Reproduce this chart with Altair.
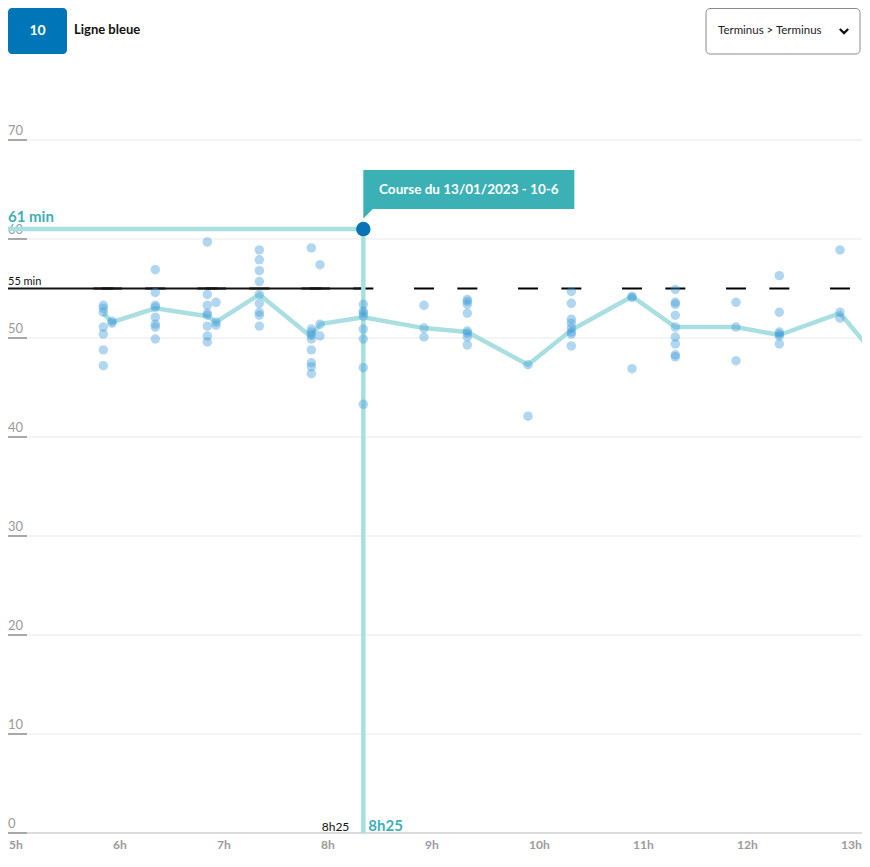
import altair as alt
import pandas as pd

# ---------------- data ----------------
dep_times = ["5h55", "6h00", "6h25", "6h55", "7h00", "7h25", "7h55", "8h00", "8h25",
             "9h00", "9h25", "10h00", "10h25", "11h00", "11h25", "12h00", "12h25", "13h00", "13h25"]
trip_values = [
    [53.3, 53.0, 52.6, 51.1, 50.4, 48.8, 47.2],
    [51.7, 51.5],
    [56.9, 54.6, 53.3, 53.1, 52.1, 51.4, 51.1, 49.9],
    [59.7, 54.4, 53.3, 52.5, 52.3, 51.2, 50.2, 49.6],
    [53.6, 51.6, 51.3],
    [58.9, 57.9, 56.8, 55.7, 54.4, 53.5, 52.6, 52.3, 51.2],
    [59.1, 50.9, 50.6, 50.3, 49.9, 48.8, 47.5, 47.1, 46.4],
    [57.4, 51.4, 50.2],
    [53.4, 52.7, 52.5, 52.2, 50.9, 49.9, 47.0, 43.3],
    [53.3, 51.0, 50.1],
    [53.9, 53.7, 53.4, 52.5, 50.7, 50.5, 50.1, 49.3],
    [47.3, 42.1],
    [54.7, 53.5, 51.9, 51.5, 51.0, 50.6, 50.4, 49.2],
    [54.2, 54.1, 46.9],
    [54.9, 53.6, 53.4, 52.3, 51.1, 50.1, 49.4, 48.3, 48.1],
    [53.6, 51.1, 47.7],
    [56.3, 52.6, 50.6, 50.4, 50.2, 49.4],
    [58.9, 52.6, 52.0],
    [],
]
median_values = [52.5, 51.6, 53.0, 52.2, 51.6, 54.4, 50.1, 51.4, 52.1,
                 51.0, 50.6, 47.3, 50.8, 54.2, 51.1, 51.1, 50.3, 52.5, 47.3]
scheduled = 55
highlight_time = "8h25"
highlight_value = 61
highlight_title = "Course du 13/01/2023 - 10-6"
y_ticks = [0, 10, 20, 30, 40, 50, 60, 70]
x_ticks = [5, 6, 7, 8, 9, 10, 11, 12, 13]
x_tick_labels = ["5h", "6h", "7h", "8h", "9h", "10h", "11h", "12h", "13h"]
line_number = "10"
line_name = "Ligne bleue"
direction = "Terminus > Terminus"


def to_hours(s):
    h, m = s.split("h")
    return int(h) + int(m) / 60.0


# ---------------- geometry ----------------
W, H = 854, 825
PX_PER_H = 104.0
x_dom = [5, 5 + W / PX_PER_H]
y_dom = [0, H / 9.9]
X = lambda f: alt.X(f, type="quantitative", scale=alt.Scale(domain=x_dom, nice=False, zero=False), axis=None)
Y = lambda f: alt.Y(f, type="quantitative", scale=alt.Scale(domain=y_dom, nice=False), axis=None)

FONT = "Lato"
TEAL = "#3bb0b5"
LINE_TEAL = "#a9dfe1"
DOT = "#3b9ad9"
HL = "#0a72b6"
GRAY = "#9a9a9a"

dots = pd.DataFrame([(to_hours(t), v) for t, vals in zip(dep_times, trip_values) for v in vals],
                    columns=["t", "v"])
med = pd.DataFrame({"t": [to_hours(t) for t in dep_times], "v": median_values})
sched = pd.DataFrame({"t": [to_hours(t) for t in dep_times], "v": [scheduled] * len(dep_times)})
t0 = to_hours(highlight_time)
hl = pd.DataFrame({"t": [t0], "v": [highlight_value], "x0": [x_ticks[0]], "zero": [0],
                   "sched": [scheduled], "lab": [f"{highlight_value} min"],
                   "slab": [f"{scheduled} min"], "tlab": [highlight_time],
                   "title": [highlight_title],
                   "tt_x2": [t0 + 211 / PX_PER_H], "tt_xm": [t0 + 105.5 / PX_PER_H],
                   "tt_y1": [highlight_value + 20 / 9.9], "tt_y2": [highlight_value + 59 / 9.9],
                   "tt_ym": [highlight_value + 39.5 / 9.9]})
yt = pd.DataFrame({"v": y_ticks, "lab": [str(v) for v in y_ticks]})
xt = pd.DataFrame({"t": x_ticks, "lab": x_tick_labels})

# ---------------- layers ----------------
grid = alt.Chart(yt).mark_rule(color="#f0f0f0", strokeWidth=1.5).encode(
    y=Y("v"), x=alt.value(0), x2=alt.value(W))
axis_line = alt.Chart(yt[yt.v == 0]).mark_rule(color="#dcdce0", strokeWidth=2).encode(
    y=Y("v"), x=alt.value(0), x2=alt.value(W))
underline = alt.Chart(yt).mark_rule(color="#a8a8a8", strokeWidth=2).encode(
    y=Y("v"), x=alt.value(0), x2=alt.value(19))
ylabels = alt.Chart(yt).mark_text(align="left", baseline="bottom", dy=-2, fontSize=13,
                                  font=FONT, color=GRAY).encode(
    y=Y("v"), x=alt.value(0), text="lab:N")
xlabels = alt.Chart(xt).mark_text(align="left", baseline="middle", dx=1, fontSize=12,
                                  font=FONT, fontWeight="bold", color=GRAY).encode(
    x=X("t"), y=alt.value(H + 12), text="lab:N")

sched_ticks = alt.Chart(sched).mark_tick(orient="horizontal", size=20, thickness=2,
                                          color="#000000", opacity=1, clip=True).encode(x=X("t"), y=Y("v"))
sched_line = alt.Chart(hl).mark_rule(color="#111111", strokeWidth=2).encode(
    x=X("x0"), x2="t", y=Y("sched"))
sched_label = alt.Chart(hl).mark_text(align="left", baseline="bottom", dy=-2, fontSize=11,
                                      font=FONT, color="#111111").encode(
    x=X("x0"), y=Y("sched"), text="slab:N")

med_line = alt.Chart(med).mark_line(color=LINE_TEAL, strokeWidth=4.5, clip=True).encode(
    x=X("t"), y=Y("v"))
dot_layer = alt.Chart(dots).mark_circle(color=DOT, opacity=0.4, size=90).encode(
    x=X("t"), y=Y("v"))

hl_h = alt.Chart(hl).mark_rule(color=LINE_TEAL, strokeWidth=4.5).encode(
    x=X("x0"), x2="t", y=Y("v"))
hl_v = alt.Chart(hl).mark_rule(color=LINE_TEAL, strokeWidth=4.5).encode(
    x=X("t"), y=Y("v"), y2="zero")
hl_pt = alt.Chart(hl).mark_circle(color=HL, opacity=1, size=210).encode(x=X("t"), y=Y("v"))
hl_lab = alt.Chart(hl).mark_text(align="left", baseline="bottom", dy=-4, fontSize=15,
                                 font=FONT, fontWeight="bold", color=TEAL).encode(
    x=X("x0"), y=Y("v"), text="lab:N")
t_lab_teal = alt.Chart(hl).mark_text(align="left", baseline="alphabetic", dx=5, dy=-2,
                                     fontSize=15, font=FONT, fontWeight="bold", color=TEAL).encode(
    x=X("t"), y=Y("zero"), text="tlab:N")
t_lab_black = alt.Chart(hl).mark_text(align="right", baseline="alphabetic", dx=-14, dy=-2,
                                      fontSize=12, font=FONT, color="#111111").encode(
    x=X("t"), y=Y("zero"), text="tlab:N")

tt_box = alt.Chart(hl).mark_rect(color=TEAL).encode(
    x=X("t"), x2="tt_x2", y=Y("tt_y1"), y2="tt_y2")
tt_ptr = alt.Chart(hl).mark_point(shape="M-1,-1L-1,1L1,-1Z", filled=True, color=TEAL,
                                  opacity=1, size=90, xOffset=4.7, yOffset=-15.3).encode(
    x=X("t"), y=Y("v"))
tt_text = alt.Chart(hl).mark_text(align="center", baseline="middle", fontSize=13.5,
                                  font=FONT, fontWeight="bold", color="white").encode(
    x=X("tt_xm"), y=Y("tt_ym"), text="title:N")

# header
hdr = pd.DataFrame({"num": [line_number], "name": [line_name], "dir": [direction]})
badge = alt.Chart(hdr).mark_rect(color="#0076b9", cornerRadius=4).encode(
    x=alt.value(0), x2=alt.value(59), y=alt.value(0), y2=alt.value(46))
badge_txt = alt.Chart(hdr).mark_text(align="center", baseline="middle", fontSize=14,
                                     font=FONT, fontWeight="bold", color="white").encode(
    x=alt.value(29.5), y=alt.value(23), text="num:N")
name_txt = alt.Chart(hdr).mark_text(align="left", baseline="middle", fontSize=13,
                                    font=FONT, fontWeight="bold", color="#111111").encode(
    x=alt.value(66), y=alt.value(22), text="name:N")
select_box = alt.Chart(hdr).mark_rect(fill="white", stroke="#8a8a8a", strokeWidth=1,
                                      cornerRadius=4).encode(
    x=alt.value(698), x2=alt.value(852), y=alt.value(0.5), y2=alt.value(46))
select_txt = alt.Chart(hdr).mark_text(align="left", baseline="middle", fontSize=11.5,
                                      font=FONT, color="#222222").encode(
    x=alt.value(710), y=alt.value(23), text="dir:N")
chevron = alt.Chart(hdr).mark_point(shape="M-1,-0.5L0,0.5L1,-0.5", filled=False,
                                    color="#111111", strokeWidth=2.2, size=70, opacity=1).encode(
    x=alt.value(836), y=alt.value(23))

chart = alt.layer(
    grid, axis_line, underline, ylabels, xlabels,
    sched_ticks, sched_line, sched_label,
    med_line, hl_h, hl_v, dot_layer, hl_pt, hl_lab, t_lab_teal, t_lab_black,
    tt_box, tt_ptr, tt_text,
    badge, badge_txt, name_txt, select_box, select_txt, chevron,
).properties(
    width=W, height=H,
    autosize=alt.AutoSizeParams(type="none"),
    padding={"left": 0, "top": 0, "right": 0, "bottom": 30},
).configure_view(stroke=None)

chart.save("out.html", embed_options={"renderer": "svg", "actions": False})
